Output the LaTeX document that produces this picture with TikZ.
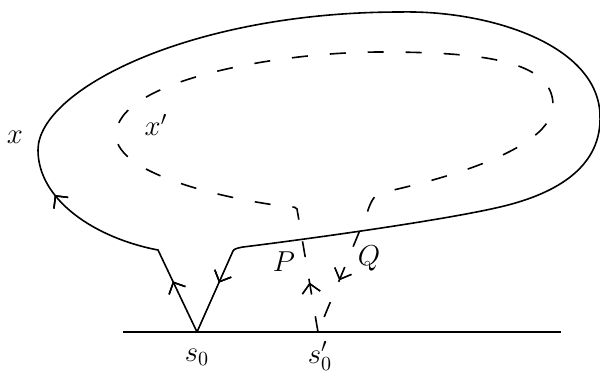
\documentclass[tikz,border=0pt]{standalone}
\usetikzlibrary{arrows.meta,decorations.markings}
\begin{document}
\begin{tikzpicture}[x=0.5pt, y=-0.5pt, line width=0.8pt,
    font=\fontsize{14}{16}\selectfont,
    spitze/.style={decoration={markings,
        mark=at position #1 with {\arrow{Straight Barb[length=4.5pt, width=9pt, line width=0.7pt]}}},
        postaction={decorate}},
    gestrichelt/.style={dash pattern=on 8pt off 11pt}]
        \useasboundingbox (0,0) rectangle (600,372);

        % Punkte
        \coordinate (s0)  at (197,332);
        \coordinate (s0s) at (318,332);
        \coordinate (lv)  at (158,250);
        \coordinate (rv)  at (233,251);
        \coordinate (pe)  at (297,209);
        \coordinate (qe)  at (380,193);

        % Grundlinie
        \draw (123,332) -- (561,332);

        % Kurve x
        \draw[spitze=28pt, spitze=105pt, spitze=-27pt]
        (s0) -- (lv)
        .. controls (95,238) and (38,200) .. (38,150)
        .. controls (38,90) and (190,12) .. (400,12)
        .. controls (490,10) and (598,45) .. (600,115)
        .. controls (602,165) and (560,193) .. (500,207)
        .. controls (440,221) and (300,240) .. (243,247)
        .. controls (237,248) and (234,249) .. (rv)
        -- (s0);

        % Kurve x'
        \draw[gestrichelt, spitze=25pt, spitze=-28pt]
        (s0s) -- (pe)
        .. controls (296,207) and (294,207) .. (290,207)
        .. controls (230,200) and (116,175) .. (116,135)
        .. controls (116,80) and (280,52) .. (380,52)
        .. controls (480,52) and (553,60) .. (553,105)
        .. controls (553,150) and (440,180) .. (qe)
        .. controls (373,196) and (370,204) .. (367,213)
        -- (s0s);

        % Beschriftungen
        \node (lx)  at (15,137)  {$x$};
        \node (lxs) at (156,125) {$x'$};
        \node (lp)  at (284,262) {$P$};
        \node (lq)  at (369,258) {$Q$};
        \node (ls0) at (197,357) {$s_0$};
        \node (ls0s) at (320,356) {$s'_0$};
    \end{tikzpicture}
\end{document}
